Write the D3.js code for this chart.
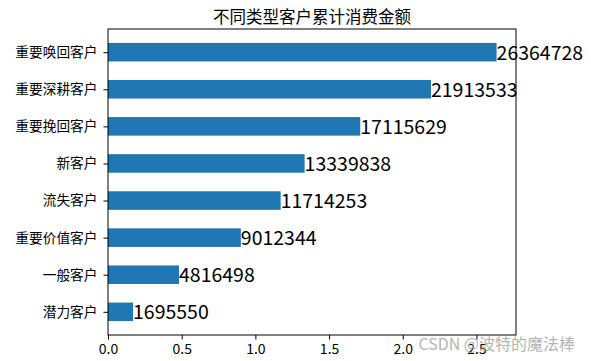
<!DOCTYPE html>
<html>
<head>
<meta charset="utf-8">
<script src="https://cdn.jsdelivr.net/npm/d3@7"></script>
<style>
  body { margin: 0; background: #fff; }
  text { font-family: "Noto Sans CJK SC", "DejaVu Sans", sans-serif; }
</style>
</head>
<body>
<svg id="chart" width="591" height="361"></svg>
<script>
const categories = ["重要唤回客户", "重要深耕客户", "重要挽回客户", "新客户", "流失客户", "重要价值客户", "一般客户", "潜力客户"];
const values = [26364728, 21913533, 17115629, 13339838, 11714253, 9012344, 4816498, 1695550];
const xTicks = [0, 0.5e7, 1e7, 1.5e7, 2e7, 2.5e7];

const mLeft = 108, mRight = 516, mTop = 29, mBottom = 335;
const svg = d3.select("#chart");

const xMax = d3.max(values) * 1.05;
const x = d3.scaleLinear().domain([0, xMax]).range([mLeft, mRight]);
// matplotlib-like: index 0 at top, bars 0.5 tall, 5% margins
const n = categories.length;
const y = d3.scaleLinear().domain([-0.25 - 0.375, n - 0.75 + 0.375]).range([mTop, mBottom]);

svg.selectAll("rect.bar")
  .data(values)
  .enter().append("rect")
  .attr("class", "bar")
  .attr("x", x(0))
  .attr("y", (d, i) => y(i - 0.25))
  .attr("width", d => x(d) - x(0))
  .attr("height", (d, i) => y(i + 0.25) - y(i - 0.25))
  .attr("fill", "#1f77b4");

svg.selectAll("text.val")
  .data(values)
  .enter().append("text")
  .attr("class", "val")
  .attr("x", d => x(d))
  .attr("y", (d, i) => y(i))
  .attr("dy", "0.38em")
  .attr("font-size", 19.5)
  .attr("fill", "#000")
  .text(d => d);

// frame
svg.append("rect")
  .attr("x", mLeft).attr("y", mTop)
  .attr("width", mRight - mLeft).attr("height", mBottom - mTop)
  .attr("fill", "none").attr("stroke", "#000").attr("stroke-width", 1);

const xAxis = svg.append("g")
  .attr("transform", `translate(0,${mBottom})`)
  .call(d3.axisBottom(x).tickValues(xTicks).tickSize(4.5).tickPadding(5).tickFormat(d => (d / 1e7).toFixed(1)));
xAxis.select(".domain").remove();
xAxis.selectAll("text").attr("font-size", 14).attr("fill", "#000").attr("font-family", "'Noto Sans CJK SC', sans-serif");

const yAxis = svg.append("g")
  .attr("transform", `translate(${mLeft},0)`)
  .call(d3.axisLeft(d3.scalePoint().domain(categories).range([y(0), y(n - 1)])).tickSize(4.5).tickPadding(6));
yAxis.select(".domain").remove();
yAxis.selectAll("text").attr("font-size", 13.7).attr("fill", "#000").attr("font-family", "'Noto Sans CJK SC', sans-serif");

svg.append("text")
  .attr("x", (mLeft + mRight) / 2)
  .attr("y", 23)
  .attr("text-anchor", "middle")
  .attr("font-size", 16.5)
  .text("不同类型客户累计消费金额");

svg.append("text")
  .attr("x", 575)
  .attr("y", 350)
  .attr("text-anchor", "end")
  .attr("font-size", 16)
  .attr("fill", "#aaa")
  .attr("fill-opacity", 0.9)
  .text("CSDN @波特的魔法棒");
</script>
</body>
</html>
